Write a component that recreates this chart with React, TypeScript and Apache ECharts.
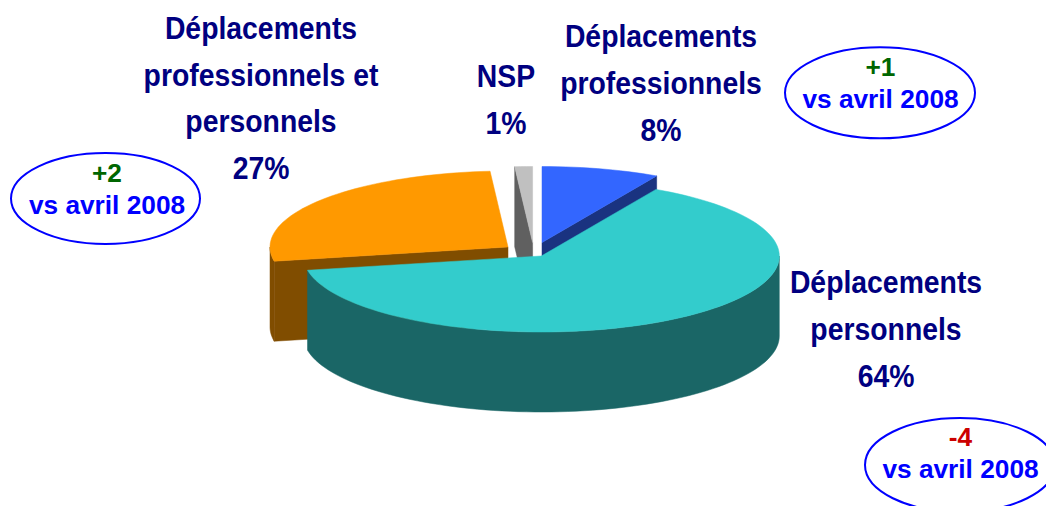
import React, { useEffect, useRef } from "react";
import * as echarts from "echarts";

const sliceNames = ["Déplacements professionnels", "Déplacements personnels", "Déplacements professionnels et personnels", "NSP"];
const sliceShares = [8, 64, 26.8, 1.2];
const labelProfessionnels = ["Déplacements", "professionnels", "8%"];
const labelPersonnels = ["Déplacements", "personnels", "64%"];
const labelMixte = ["Déplacements", "professionnels et", "personnels", "27%"];
const labelNsp = ["NSP", "1%"];
const deltaTexts = ["+1", "+2", "-4"];
const comparisonText = "vs avril 2008";

const topColors = ["#3366ff", "#33cccc", "#ff9900", "#c0c0c0"];
const sideColors = ["#1a3380", "#1a6666", "#804d00", "#606060"];
const centers = [[542, 242.5], [541.3, 256], [508, 247], [532.6, 242.5]];
const paintOrder = [1, 4, 2, 1];
const RX = 238, RY = 76, DEPTH = 80;
const NAVY = "#000080";

function arcPoints(cx: number, cy: number, from: number, to: number) {
  const n = Math.max(2, Math.ceil(Math.abs(to - from) / 2));
  const pts: number[][] = [];
  for (let i = 0; i <= n; i++) {
    const a = ((from + ((to - from) * i) / n) * Math.PI) / 180;
    pts.push([cx + RX * Math.cos(a), cy - RY * Math.sin(a)]);
  }
  return pts;
}

function renderSlice(_params: any, api: any) {
  const i = api.value(0);
  const start = api.value(1);
  const end = api.value(2);
  const [cx, cy] = centers[i];
  const z = paintOrder[i] * 10;
  const children: any[] = [];
  const side = sideColors[i];
  const poly = (points: number[][], fill: string, dz: number) => ({
    type: "polygon",
    z2: z + dz,
    shape: { points },
    style: { fill, stroke: fill, lineWidth: 0.5 },
  });
  // Outer wall: only the portion of the rim that faces the viewer.
  for (const k of [-1, -2]) {
    const lo = k === -1 ? -180 : -540;
    const hi = k === -1 ? 0 : -360;
    const a = Math.min(start, hi);
    const b = Math.max(end, lo);
    if (a > b) {
      const rim = arcPoints(cx, cy, a, b);
      const low = rim.map(([x, y]) => [x, y + DEPTH]).reverse();
      children.push(poly(rim.concat(low), side, 0));
    }
  }
  const edgeQuad = (deg: number) => {
    const [p] = arcPoints(cx, cy, deg, deg);
    return [[cx, cy], p, [p[0], p[1] + DEPTH], [cx, cy + DEPTH]];
  };
  if (Math.cos((start * Math.PI) / 180) < -1e-6) children.push(poly(edgeQuad(start), side, 1));
  if (Math.cos((end * Math.PI) / 180) > 1e-6) children.push(poly(edgeQuad(end), side, 1));
  children.push(poly([[cx, cy], ...arcPoints(cx, cy, start, end)], topColors[i], 2));
  return { type: "group", children };
}

function lines(list: string[], cx: number, firstY: number, step: number, size: number, fill: string | string[], scaleX = 1) {
  return list.map((text, i) => ({
    type: "text",
    x: cx,
    y: firstY + i * step,
    scaleX,
    z: 10,
    style: {
      text,
      fill: Array.isArray(fill) ? fill[i] : fill,
      font: `bold ${size}px "Liberation Sans", Arial, sans-serif`,
      textAlign: "center",
      textVerticalAlign: "middle",
    },
  }));
}

function badge(cx: number, cy: number, rx: number, ry: number, textX: number, textY: number, delta: string, color: string) {
  return [
    {
      type: "ellipse",
      z: 9,
      shape: { cx, cy, rx, ry },
      style: { fill: "none", stroke: "#0000ff", lineWidth: 2 },
    },
    ...lines([delta, comparisonText], textX, textY, 32.5, 26, [color, "#0000ff"], 1.01),
  ];
}

export default function App() {
  const ref = useRef<HTMLDivElement>(null);
  useEffect(() => {
    document.body.style.margin = "0";
    const chart = echarts.init(ref.current!, null, { renderer: "svg" });
    let acc = 90;
    const rows = sliceShares.map((share, i) => {
      const start = acc;
      acc -= (share / 100) * 360;
      return { name: sliceNames[i], value: [i, start, acc, share] };
    });
    const labelScale = 0.93;
    chart.setOption({
      animation: false,
      backgroundColor: "#ffffff",
      xAxis: { show: false },
      yAxis: { show: false },
      series: [
        {
          type: "custom",
          coordinateSystem: "none",
          renderItem: renderSlice,
          data: rows,
          silent: true,
        },
      ],
      graphic: [
        ...lines(labelMixte, 261, 28, 46.7, 30.5, NAVY, labelScale),
        ...lines(labelNsp, 506, 76, 47, 30.5, NAVY, labelScale),
        ...lines(labelProfessionnels, 661, 36, 47, 30.5, NAVY, labelScale),
        ...lines(labelPersonnels, 886, 282, 47, 30.5, NAVY, labelScale),
        ...badge(880, 92.8, 95, 45.5, 880.5, 67, deltaTexts[0], "#006600"),
        ...badge(105.5, 198.5, 94.5, 45.5, 107, 173, deltaTexts[1], "#006600"),
        ...badge(960, 465, 95, 47, 960.5, 437, deltaTexts[2], "#cc0000"),
      ],
    });
    return () => chart.dispose();
  }, []);
  return <div ref={ref} style={{ width: 1046, height: 506 }} />;
}
